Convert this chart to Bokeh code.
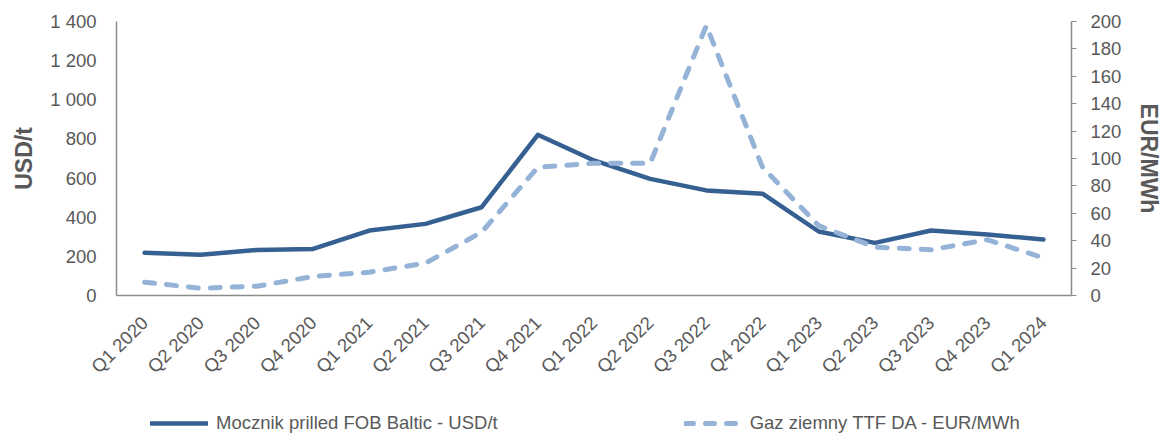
import math
from bokeh.plotting import figure
from bokeh.layouts import column
from bokeh.models import (FactorRange, Range1d, LinearAxis, FixedTicker, Legend, LegendItem)
from bokeh.embed import file_html
from bokeh.resources import INLINE

quarters = ["Q1 2020", "Q2 2020", "Q3 2020", "Q4 2020",
            "Q1 2021", "Q2 2021", "Q3 2021", "Q4 2021",
            "Q1 2022", "Q2 2022", "Q3 2022", "Q4 2022",
            "Q1 2023", "Q2 2023", "Q3 2023", "Q4 2023",
            "Q1 2024"]
urea_usd_t = [218, 208, 233, 238, 332, 366, 451, 821,
              690, 596, 537, 520, 327, 269, 332, 312, 286]
gas_eur_mwh = [9.7, 5.3, 6.8, 13.9, 17.0, 23.6, 46.2, 93.6,
               96.6, 96.6, 197, 93.6, 51, 35.3, 33.4, 40.7, 27.5]
left_ticks = [0, 200, 400, 600, 800, 1000, 1200, 1400]
left_tick_labels = ["0", "200", "400", "600", "800", "1 000", "1 200", "1 400"]
right_ticks = [0, 20, 40, 60, 80, 100, 120, 140, 160, 180, 200]
series_names = ["Mocznik prilled FOB Baltic - USD/t", "Gaz ziemny TTF DA - EUR/MWh"]

FONT = "Liberation Sans"
GRAY = "#595959"
AXIS = "#8c8c8c"
C_UREA = "#376092"
C_GAS = "#95b3d7"

p = figure(width=1165, height=404, x_range=FactorRange(factors=quarters, range_padding=0),
           y_range=Range1d(0, 1400), output_backend="svg", toolbar_location=None,
           min_border_left=116, min_border_right=89, min_border_top=21, min_border_bottom=109)
p.extra_y_ranges = {"gas": Range1d(0, 200)}
p.outline_line_color = None
p.xgrid.visible = False
p.ygrid.visible = False

l1 = p.line(quarters, urea_usd_t, line_color=C_UREA, line_width=4.5, line_join="round", line_cap="round")
l2 = p.line(quarters, gas_eur_mwh, y_range_name="gas", line_color=C_GAS, line_width=5,
            line_dash="10 12", line_join="round", line_cap="round")

# left axis
ya = p.yaxis[0]
ya.ticker = FixedTicker(ticks=left_ticks)
ya.major_label_overrides = {t: s for t, s in zip(left_ticks, left_tick_labels)}
ya.major_tick_line_color = None
ya.major_tick_out = 0
ya.major_tick_in = 0
ya.minor_tick_line_color = None
ya.major_label_standoff = 20
ya.axis_line_color = AXIS
ya.axis_line_width = 1.5
ya.major_label_text_font = FONT
ya.major_label_text_font_size = "18.5px"
ya.major_label_text_color = GRAY
ya.axis_label = "USD/t"
ya.axis_label_text_font = FONT
ya.axis_label_text_font_size = "23px"
ya.axis_label_text_font_style = "bold"
ya.axis_label_text_color = GRAY
ya.axis_label_standoff = 10

# right axis
ra = LinearAxis(y_range_name="gas", ticker=FixedTicker(ticks=right_ticks))
ra.major_tick_in = 0
ra.major_tick_out = 5
ra.major_tick_line_color = AXIS
ra.minor_tick_line_color = None
ra.major_label_standoff = 14
ra.axis_line_color = AXIS
ra.axis_line_width = 1.5
ra.major_label_text_font = FONT
ra.major_label_text_font_size = "18.5px"
ra.major_label_text_color = GRAY
ra.axis_label = "EUR/MWh"
ra.axis_label_text_font = FONT
ra.axis_label_text_font_size = "23px"
ra.axis_label_text_font_style = "bold"
ra.axis_label_text_color = GRAY
ra.axis_label_standoff = 12
p.add_layout(ra, "right")

# x axis
xa = p.xaxis[0]
xa.major_label_orientation = math.pi / 4
xa.major_tick_line_color = None
xa.minor_tick_line_color = None
xa.major_label_standoff = 18
xa.axis_line_color = AXIS
xa.axis_line_width = 1.5
xa.major_label_text_font = FONT
xa.major_label_text_font_size = "18.5px"
xa.major_label_text_color = GRAY

# legend strip below the chart (keys use off-screen single-point proxies)
lg = figure(width=1165, height=30, x_range=Range1d(0, 1), y_range=Range1d(0, 1),
            output_backend="svg", toolbar_location=None,
            min_border_left=0, min_border_right=0, min_border_top=0, min_border_bottom=0)
lg.outline_line_color = None
lg.axis.visible = False
lg.grid.visible = False
k1 = lg.line([-5], [-5], line_color=C_UREA, line_width=4.5, line_cap="round")
k2 = lg.line([-5], [-5], line_color=C_GAS, line_width=5, line_dash="9 12", line_cap="round")

legend = Legend(items=[LegendItem(label=series_names[0], renderers=[k1]),
                       LegendItem(label=series_names[1], renderers=[k2])],
                orientation="horizontal", location=(34, 0))
legend.border_line_color = None
legend.background_fill_alpha = 0
legend.padding = 0
legend.margin = 0
legend.glyph_width = 58
legend.glyph_height = 20
legend.label_height = 20
legend.label_standoff = 8
legend.label_width = 280
legend.spacing = 186
legend.label_text_font = FONT
legend.label_text_font_size = "18.5px"
legend.label_text_color = GRAY
lg.add_layout(legend, "center")

layout = column(p, lg, spacing=0)
open("out.html", "w").write(file_html(layout, INLINE))
